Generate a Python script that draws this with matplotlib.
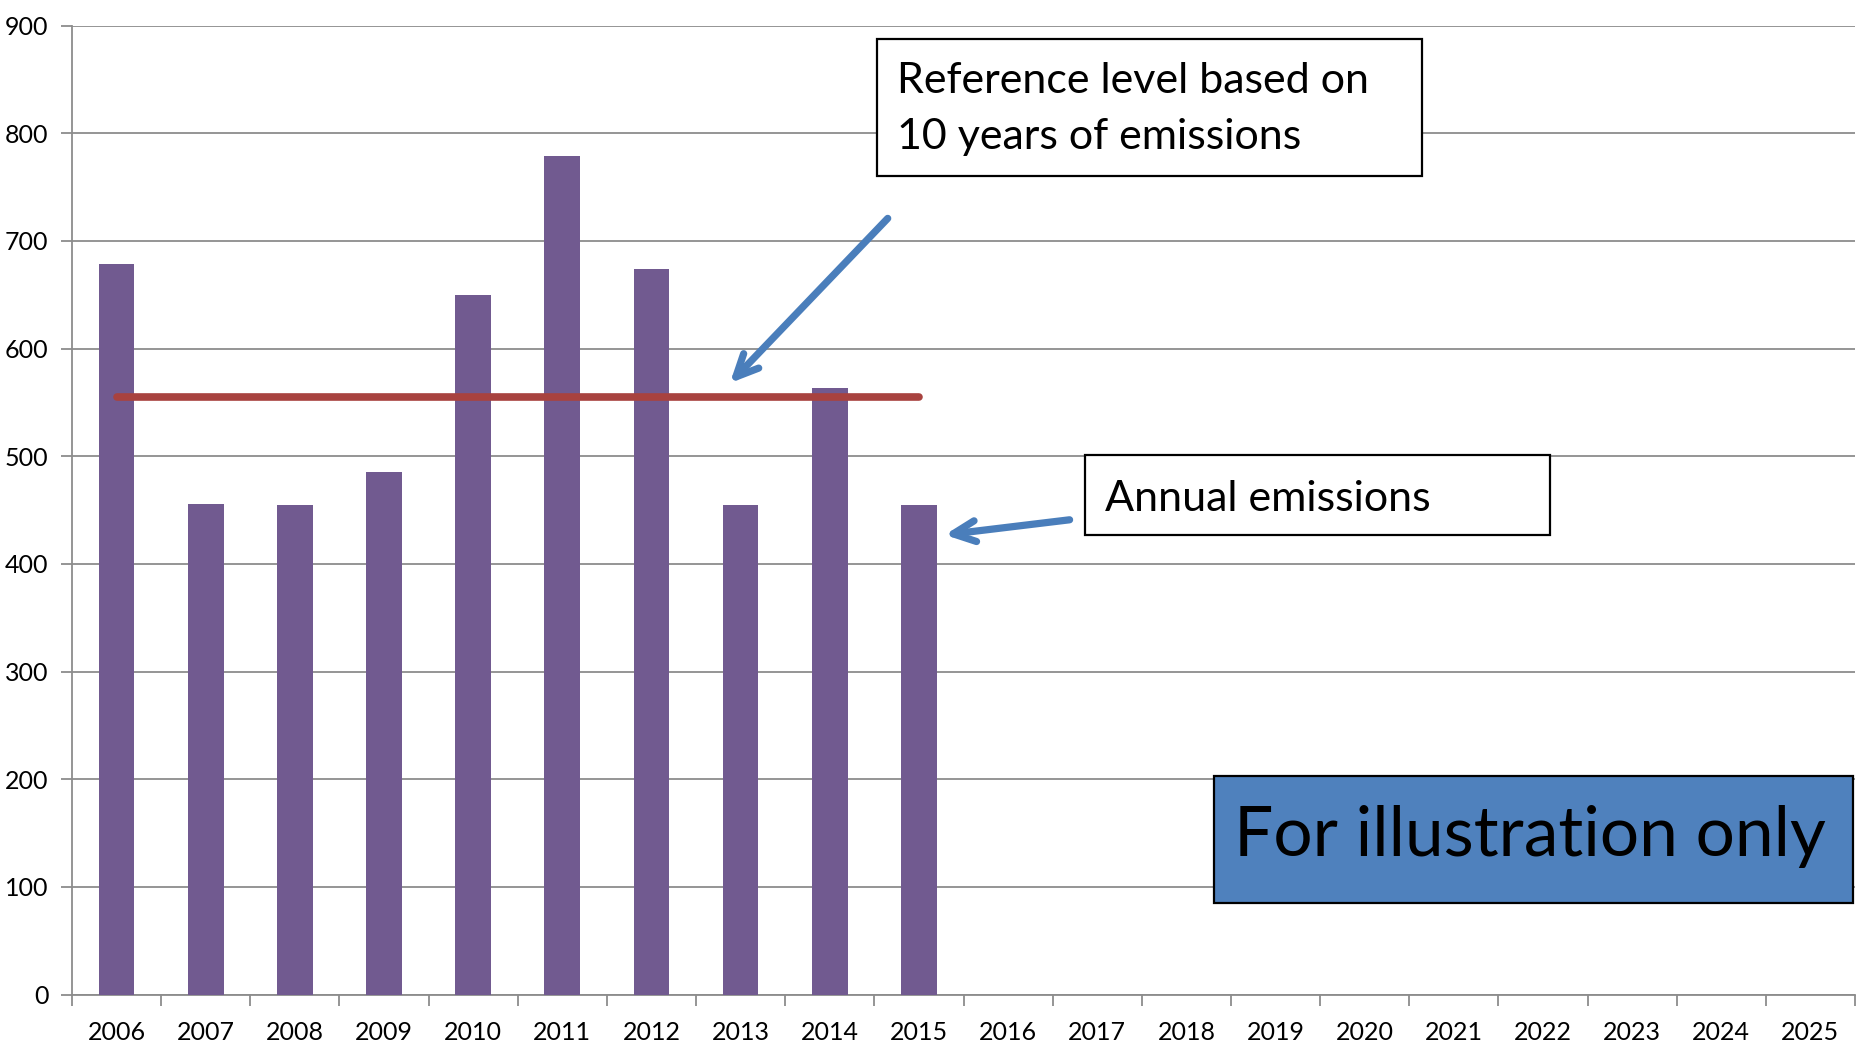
import matplotlib
matplotlib.use("Agg")
import matplotlib.pyplot as plt
from matplotlib.patches import Rectangle

years = [str(y) for y in range(2006, 2026)]
emissions = [679, 456, 455, 485, 650, 779, 674, 455, 563, 455]
reference_level = 555
ref_span = ["2006", "2015"]
y_ticks = [0, 100, 200, 300, 400, 500, 600, 700, 800, 900]

plt.rcParams['font.family'] = ['Lato', 'DejaVu Sans']

W, H = 1864, 1051
fig = plt.figure(figsize=(W / 100, H / 100), dpi=100)
ax = fig.add_axes([72 / W, 1 - 994.5 / H, (1855 - 72) / W, (994.5 - 25.7) / H])

xpos = list(range(len(years)))
ax.bar(xpos[:len(emissions)], emissions, width=0.4, color='#715A90', zorder=3)

i0, i1 = years.index(ref_span[0]), years.index(ref_span[1])
ax.plot([i0, i1], [reference_level, reference_level], color='#A8423F', lw=5.5,
        solid_capstyle='round', zorder=4)

ax.set_xlim(-0.5, len(years) - 0.5)
ax.set_ylim(0, 900)
ax.set_yticks(y_ticks)
ax.set_yticklabels([str(v) for v in y_ticks])
ax.yaxis.grid(True, color='#8C8C8C', lw=1.3, zorder=0)
ax.set_axisbelow(True)

ax.set_xticks([i + 0.5 for i in range(-1, len(years))], minor=False)
ax.set_xticklabels([])
ax.set_xticks(xpos, minor=True)
ax.set_xticklabels(years, minor=True)
ax.tick_params(axis='x', which='major', length=8, width=1.3, color='#8C8C8C')
ax.tick_params(axis='x', which='minor', length=0, pad=19, labelsize=18)
ax.tick_params(axis='y', length=8, width=1.3, color='#8C8C8C', pad=9, labelsize=18)

for s in ['top', 'right']:
    ax.spines[s].set_visible(False)
for s in ['left', 'bottom']:
    ax.spines[s].set_color('#8C8C8C')
    ax.spines[s].set_linewidth(1.3)

# Text boxes (figure pixel layout)
def box(x0, y0, x1, y1, fc):
    r = Rectangle((x0 / W, 1 - y1 / H), (x1 - x0) / W, (y1 - y0) / H,
                  transform=fig.transFigure, facecolor=fc, edgecolor='black',
                  lw=1.6, zorder=10)
    fig.patches.append(r)

box(877, 39, 1422, 176, 'white')
fig.text(897 / W, 1 - 109 / H, "Reference level based on\n10 years of emissions",
         fontsize=31, va='center', ha='left', linespacing=1.55, zorder=11)

box(1085, 455, 1550, 535, 'white')
fig.text(1105 / W, 1 - 499 / H, "Annual emissions", fontsize=31,
         va='center', ha='left', zorder=11)

box(1214, 776, 1853, 903, '#4F81BD')
fig.text(1530 / W, 1 - 836 / H, "For illustration only", fontsize=50,
         va='center', ha='center', zorder=11)

arrow_kw = dict(arrowstyle='->,head_length=1.6,head_width=0.75', color='#4A7EBB',
                lw=5.2, shrinkA=0, shrinkB=0, capstyle='round', joinstyle='round')
ax.annotate('', xy=(6.88, 568), xytext=(8.65, 721), arrowprops=arrow_kw, zorder=6)
ax.annotate('', xy=(9.29, 427), xytext=(10.69, 441), arrowprops=arrow_kw, zorder=6)

fig.savefig('out.png', dpi=100)
